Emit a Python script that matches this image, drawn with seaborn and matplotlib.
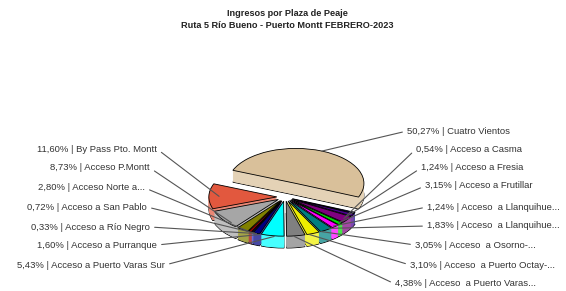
import numpy as np
import matplotlib
matplotlib.use("Agg")
import matplotlib.pyplot as plt
import matplotlib.colors as mcolors
import seaborn as sns

# plazas in clockwise order, starting with the big slice
plazas = ["Cuatro Vientos", "Acceso a Casma", "Acceso a Fresia", "Acceso a Frutillar",
          "Acceso  a Llanquihue...", "Acceso  a Llanquihue...", "Acceso  a Osorno-...",
          "Acceso  a Puerto Octay-...", "Acceso  a Puerto Varas...",
          "Acceso a Puerto Varas Sur", "Acceso a Purranque", "Acceso a Río Negro",
          "Acceso a San Pablo", "Acceso Norte a...", "Acceso P.Montt", "By Pass Pto. Montt"]
shares = [50.27, 0.54, 1.24, 3.15, 1.24, 1.83, 3.05, 3.10, 4.38,
          5.43, 1.60, 0.33, 0.72, 2.80, 8.73, 11.60]
colors = ["#D9C09A", "#000080", "#4B0090", "#800080", "#00E000", "#FF00FF", "#008080",
          "#EEEE00", "#808080", "#00FFFF", "#000080", "#3333CC", "#990000",
          "#808000", "#A6A6A6", "#E2583E"]

sns.set_theme(style="white")
plt.rcParams["font.family"] = ["Liberation Sans", "DejaVu Sans"]

W, H = 566, 291
fig = plt.figure(figsize=(W / 100, H / 100), dpi=100)
ax = fig.add_axes([0, 0, 1, 1])

start = 158
explode = [0.42] + [0.12] * (len(shares) - 1)
depth = 0.34
side_colors = [mcolors.to_hex(0.72 * np.array(mcolors.to_rgb(c)) + 0.28) for c in colors]

# side of the "3D" pie: stacked copies shifted down
layers = np.linspace(depth, 0.01, 28)
for k, d in enumerate(layers):
    edge = dict(edgecolor="black", linewidth=0.6) if k == 0 else dict(edgecolor="none", linewidth=0)
    ax.pie(shares, colors=side_colors, startangle=start, counterclock=False,
           explode=explode, center=(0, -d), wedgeprops=edge)
# top surface
ax.pie(shares, colors=colors, startangle=start, counterclock=False,
       explode=explode, wedgeprops=dict(edgecolor="black", linewidth=0.6))

# scale: px per unit horizontally / vertically, centre of the pie in pixels
cx, cy, sx, sy = 285, 197, 68, 35
ax.set_aspect("auto")
ax.set_xlim(-cx / sx, (W - cx) / sx)
ax.set_ylim(-(H - cy) / sy, cy / sy)
ax.axis("off")

# label layout (pixels from top-left)
right_x = [407, 416, 421, 425, 427, 427, 415, 410, 395]
right_y = [131, 149, 168, 186, 207, 226, 245, 265, 284]
left_x = [157, 150, 145, 147, 150, 157, 165]
left_y = [149, 168, 188, 207, 227, 245, 265]

tot = sum(shares)
cum = np.cumsum([0] + shares[:-1])
mids = start - 360 * (cum + np.array(shares) / 2) / tot


def label(i):
    return f"{shares[i]:.2f}".replace(".", ",") + "% | " + plazas[i]


def anchor(i):
    r = 1.0 if i == 0 else 0.85
    t = np.deg2rad(mids[i])
    x = (r + explode[i]) * np.cos(t)
    y = (r + explode[i]) * np.sin(t)
    if np.sin(t) < 0:
        y -= depth * 0.5
    return x, y


line = dict(arrowstyle="-", color="#555555", lw=0.8, shrinkA=1, shrinkB=0)
for j in range(9):
    ax.annotate(label(j), xy=anchor(j), xycoords="data",
                xytext=(right_x[j], H - right_y[j]), textcoords="figure pixels",
                ha="left", va="center", fontsize=6.8, color="#333333",
                arrowprops=dict(line, relpos=(0, 0.5)))
for j, i in enumerate(range(len(shares) - 1, 8, -1)):
    ax.annotate(label(i), xy=anchor(i), xycoords="data",
                xytext=(left_x[j], H - left_y[j]), textcoords="figure pixels",
                ha="right", va="center", fontsize=6.8, color="#333333",
                arrowprops=dict(line, relpos=(1, 0.5)))

fig.text(0.507, 1 - 14 / H, "Ingresos por Plaza de Peaje", ha="center", va="center",
         fontsize=6.6, fontweight="bold", color="#222222")
fig.text(0.507, 1 - 25 / H, "Ruta 5 Río Bueno - Puerto Montt FEBRERO-2023", ha="center",
         va="center", fontsize=6.6, fontweight="bold", color="#222222")

fig.savefig("out.png", dpi=100)
plt.close(fig)
